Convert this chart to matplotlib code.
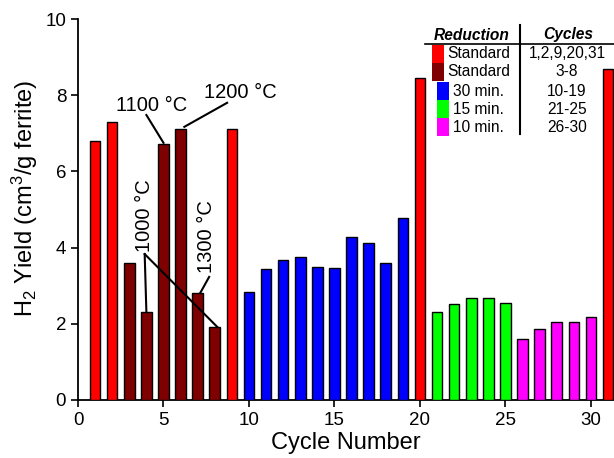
import matplotlib
matplotlib.use("Agg")
import matplotlib.pyplot as plt
from matplotlib.patches import Rectangle
from matplotlib.lines import Line2D

plt.rcParams['font.family'] = ['Liberation Sans', 'DejaVu Sans']
plt.rcParams['mathtext.fontset'] = 'custom'
plt.rcParams['mathtext.rm'] = 'Liberation Sans'
plt.rcParams['mathtext.it'] = 'Liberation Sans:italic'

# Data
cycles = list(range(1, 32))
h2_yield = [6.80, 7.30, 3.60, 2.30, 6.72, 7.10, 2.80, 1.92, 7.10,
            2.83, 3.44, 3.67, 3.75, 3.49, 3.46, 4.28, 4.12, 3.59, 4.77,
            8.45,
            2.31, 2.52, 2.67, 2.69, 2.54,
            1.60, 1.86, 2.05, 2.05, 2.18,
            8.69]

group_names = ["Standard", "Standard", "30 min.", "15 min.", "10 min."]
group_cycles = ["1,2,9,20,31", "3-8", "10-19", "21-25", "26-30"]
group_colors = ["#ff0000", "#7f0000", "#0000ff", "#00ff00", "#ff00ff"]

# which group each cycle belongs to
cycle_group = [0, 0, 1, 1, 1, 1, 1, 1, 0,
               2, 2, 2, 2, 2, 2, 2, 2, 2, 2,
               0,
               3, 3, 3, 3, 3,
               4, 4, 4, 4, 4,
               0]

fig = plt.figure(figsize=(6.14, 4.58), dpi=100)
ax = fig.add_axes([78 / 614, 58 / 458, 536 / 614, 381 / 458])

bar_colors = [group_colors[g] for g in cycle_group]
ax.bar(cycles, h2_yield, width=0.62, color=bar_colors, edgecolor='black',
       linewidth=1.0, zorder=3)

ax.set_xlim(0, 31.35)
ax.set_ylim(0, 10)
ax.set_xticks([0, 5, 10, 15, 20, 25, 30])
ax.set_yticks([0, 2, 4, 6, 8, 10])
ax.tick_params(direction='out', length=5, width=1.2, labelsize=13.5)
ax.spines['top'].set_visible(False)
ax.spines['right'].set_visible(False)
ax.spines['left'].set_linewidth(1.3)
ax.spines['bottom'].set_linewidth(1.3)
ax.set_xlabel("Cycle Number", fontsize=17, labelpad=2)
ax.set_ylabel("H$_2$ Yield (cm$^3$/g ferrite)", fontsize=17)
ax.yaxis.set_label_coords(-0.07, 0.53)

# temperature annotations
fs = 14.5
ax.text(4.3, 7.74, "1100 °C", fontsize=fs, ha='center', va='center')
ax.plot([4.0, 5.0], [7.48, 6.75], color='black', lw=1.5, zorder=4)
ax.text(9.5, 8.08, "1200 °C", fontsize=fs, ha='center', va='center')
ax.plot([8.72, 6.22], [7.80, 7.17], color='black', lw=1.5, zorder=4)
ax.text(3.9, 4.85, "1000 °C", fontsize=fs, ha='center', va='center', rotation=90)
ax.plot([3.9, 4.0], [3.83, 2.31], color='black', lw=1.5, zorder=4)
ax.plot([3.9, 8.14], [3.83, 1.92], color='black', lw=1.5, zorder=4)
ax.text(7.5, 4.28, "1300 °C", fontsize=fs, ha='center', va='center', rotation=90)
ax.plot([7.67, 7.15], [3.23, 2.81], color='black', lw=1.5, zorder=4)

# legend table drawn in figure pixels
W, H = 614, 458


def fx(px):
    return px / W


def fy(py):
    return 1 - py / H


tfs = 11.2
fig.text(fx(472), fy(35), "Reduction", fontsize=tfs, fontweight='bold',
         style='italic', ha='center', va='center')
fig.text(fx(568), fy(35), "Cycles", fontsize=tfs, fontweight='bold',
         style='italic', ha='center', va='center')
fig.add_artist(Line2D([fx(425), fx(614)], [fy(44), fy(44)], color='black',
                      lw=1.2, transform=fig.transFigure))
fig.add_artist(Line2D([fx(520), fx(520)], [fy(25), fy(134)], color='black',
                      lw=1.5, transform=fig.transFigure))

row_y = [54, 72, 91, 109, 127]
sw_x = [432, 432, 437, 437, 437]
txt_x = [447, 447, 453, 453, 453]
for i in range(5):
    fig.add_artist(Rectangle((fx(sw_x[i]), fy(row_y[i] + 9.3)), 11.5 / W, 18.6 / H,
                             facecolor=group_colors[i], edgecolor='none',
                             transform=fig.transFigure))
    fig.text(fx(txt_x[i]), fy(row_y[i]), group_names[i], fontsize=tfs,
             ha='left', va='center')
    fig.text(fx(567), fy(row_y[i]), group_cycles[i], fontsize=tfs,
             ha='center', va='center')

fig.savefig("out.png", dpi=100)
